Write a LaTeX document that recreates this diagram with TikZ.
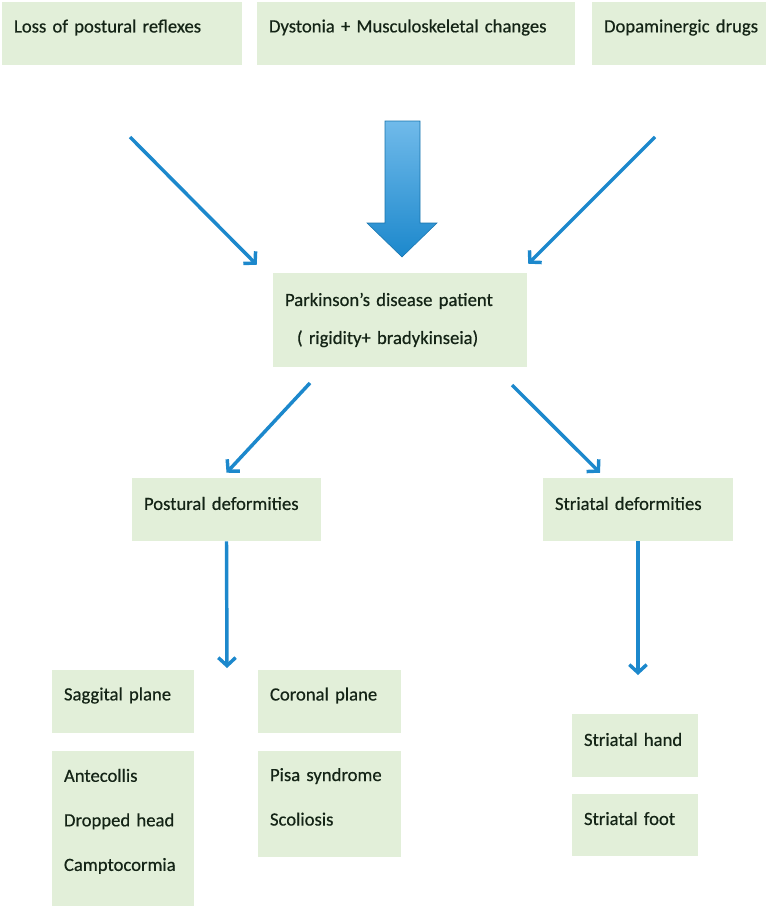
\documentclass[tikz,border=0pt]{standalone}
\usepackage{fontspec}
\setmainfont{Carlito}[FakeBold=0.5]
\usepackage{xcolor}
\usetikzlibrary{positioning,arrows.meta,calc}

\definecolor{cellgreen}{RGB}{226,239,217}
\definecolor{inkgreen}{RGB}{20,36,22}
\definecolor{arrowblue}{RGB}{28,136,204}
\definecolor{lightblue}{RGB}{112,186,234}

\tikzset{
  cell/.style={fill=cellgreen, text=inkgreen, inner xsep=9pt, inner ysep=0pt,
    align=left, font=\fontsize{14}{16.8}\selectfont},
  lift/.style={execute at end node={\par\kern#1}},
  link/.style={draw=arrowblue, line width=2.6pt,
    -{Straight Barb[length=6pt,width=13pt]}}
}

\begin{document}
\begin{tikzpicture}[x=0.75pt,y=-0.75pt]
    \useasboundingbox (0,0) rectangle (766,914);

    % causes
    \node[cell, lift=9pt, text width=162pt, minimum height=47.25pt] (loss) at (122,33.5) {Loss of postural reflexes};
    \node[cell, lift=9pt, text width=220.5pt, minimum height=47.25pt] (dyst) at (416,33.5) {Dystonia + Musculoskeletal changes};
    \node[cell, lift=9pt, text width=130pt, minimum height=47.25pt] (dopa) at (690.7,33.5) {Dopaminergic drugs};

    % patient
    \node[cell, text width=172.5pt, minimum height=70.5pt] (pd) at (400,320)
        {Parkinson’s disease patient\\[11.7pt]\hspace*{9pt}( rigidity+ bradykinseia)};

    % deformities
    \node[cell, lift=9pt, text width=123.75pt, minimum height=47.25pt] (post) at (226.5,509.5) {Postural deformities};
    \node[cell, lift=9pt, text width=124.5pt, minimum height=47.25pt] (stri) at (638,509.5) {Striatal deformities};

    % planes
    \node[cell, lift=9pt, text width=88.5pt, minimum height=47.25pt] (sag) at (123,701.5) {Saggital plane};
    \node[cell, lift=9pt, text width=89.25pt, minimum height=47.25pt] (cor) at (329.5,701.5) {Coronal plane};
    \node[cell, lift=10pt, text width=88.5pt, minimum height=116.25pt, below=12.75pt of sag] (ante)
        {Antecollis\\[16.6pt]Dropped head\\[16.6pt]Camptocormia};
    \node[cell, lift=10pt, text width=89.25pt, minimum height=79.5pt, below=12.75pt of cor] (pisa)
        {Pisa syndrome\\[16.6pt]Scoliosis};

    % striatal
    \node[cell, lift=9pt, text width=76.5pt, minimum height=47.25pt] (hand) at (635,745.5) {Striatal hand};
    \node[cell, lift=9pt, text width=76.5pt, minimum height=46.5pt, below=12pt of hand] (foot) {Striatal foot};

    % arrows
    \coordinate (lossend) at (130,137);
    \coordinate (dopaend) at (655,137);
    \coordinate (pdleft) at (310,383);
    \coordinate (pdright) at (512,385);
    \coordinate (postend) at (227,668);
    \coordinate (striend) at (638,675);

    \draw[link] (lossend) -- ($(pd.north west)+(-16,-8)$);
    \draw[link] (dopaend) -- ($(pd.north east)+(1,-9)$);
    \shade[top color=lightblue, bottom color=arrowblue, draw=arrowblue!85!black, line width=0.4pt]
        (385,121) -- (420,121) -- (420,223) -- (437,223) -- (402,257) -- (367,223) -- (385,223) -- cycle;

    \draw[link] (pdleft) -- ($(post.north)+(0,-5)$);
    \draw[link] (pdright) -- ($(stri.north)+(-38,-5)$);
    \draw[link] (post.south) -- (postend);
    \draw[link] (stri.south) -- (striend);
\end{tikzpicture}
\end{document}
